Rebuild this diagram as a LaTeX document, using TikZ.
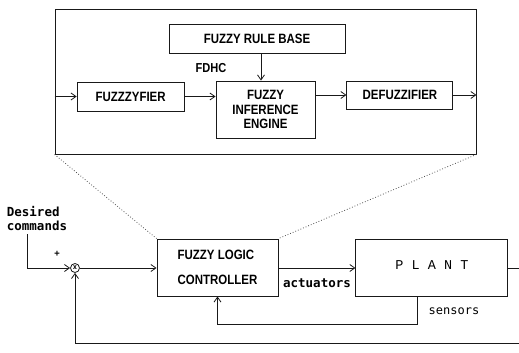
\documentclass[tikz,border=0pt]{standalone}
\usepackage{fontspec}
\setmainfont{Liberation Sans}
\newfontfamily\plotfont{Liberation Sans}[FakeStretch=0.85]
\newfontfamily\penfont{DejaVu Sans Mono}
\newfontfamily\plantfont{Liberation Mono}
\usetikzlibrary{arrows.meta,positioning}
\definecolor{ink}{RGB}{25,25,25}

\begin{document}
\begin{tikzpicture}[x=1pt,y=-1pt,
  blk/.style={draw=ink,line width=0.9pt,align=center,inner sep=0pt,
    font=\plotfont\bfseries\fontsize{13.5}{14.5}\selectfont},
  arr/.style={-{Straight Barb[length=5pt,width=7pt]},line width=0.8pt,draw=ink},
  lnk/.style={line width=0.8pt,draw=ink},
  zoomline/.style={dotted,line width=0.8pt,draw=ink!75},
  lbl/.style={font=\penfont\bfseries\fontsize{12.5}{14}\selectfont,inner sep=0pt,align=left}
]
\useasboundingbox (0,0) rectangle (519,353);

% inside the controller
\node[draw=ink,line width=0.9pt,minimum width=421pt,minimum height=145pt] (fdhc) at (265.5,81.5) {};
\node[blk,minimum width=176pt,minimum height=29pt] (rules) at (257,38.5) {FUZZY RULE BASE};
\node[blk,minimum width=99pt,minimum height=57pt] (engine) at (265.5,109.5) {FUZZY\\INFERENCE\\ENGINE};
\node[blk,minimum width=107pt,minimum height=29pt,left=31pt of engine.north west,anchor=north east,yshift=-1pt] (fuzz) {FUZZZYFIER};
\node[blk,minimum width=106pt,minimum height=28pt,right=31pt of engine.north east,anchor=north west] (defuzz) {DEFUZZIFIER};
\node[font=\plotfont\bfseries\fontsize{13}{14}\selectfont,inner sep=0pt] (fdhclbl) at (211,68) {FDHC};

\draw[arr] (fdhc.west |- fuzz) -- (fuzz);
\draw[arr] (fuzz) -- (fuzz -| engine.west);
\draw[arr] (engine.east |- defuzz) -- (defuzz);
\draw[arr] (defuzz) -- (fdhc.east |- defuzz);
\draw[arr] (rules.south -| 261,0) -- (engine.north -| 261,0);

% control loop
\node[blk,minimum width=121pt,minimum height=57pt,align=left] (flc) at (217.5,267.5) {FUZZY LOGIC\\[11pt]CONTROLLER};
\node[draw=ink,line width=0.9pt,minimum width=152pt,minimum height=57pt,
  right=77pt of flc,font=\plantfont\fontsize{13.5}{14}\selectfont] (plant) {\raisebox{4pt}{P L A N T}};
\node[draw=ink,line width=0.8pt,circle,minimum size=9pt,inner sep=0pt,
  font=\penfont\bfseries\fontsize{7}{7}\selectfont] (sum) at (75,268) {x};
\node[lbl] (desired) at (37,219) {Desired\\commands};
\node[font=\penfont\bfseries\fontsize{9}{9}\selectfont,inner sep=0pt] (plus) at (57,254) {+};
\node[lbl] (act) at (317,283) {actuators};
\node[lbl,font=\penfont\fontsize{12}{14}\selectfont] (sens) at (454,311) {sensors};

\draw[zoomline] (fdhc.south west) -- (flc.north west);
\draw[zoomline] (fdhc.south east) -- (flc.north east);

\coordinate (cmd) at (27,234);
\coordinate (out) at (519,268);
\coordinate (ret) at (519,343);
\coordinate (tap) at (417,324);
\draw[arr] (cmd) |- (sum.west);
\draw[arr] (sum.east) -- (flc.west |- sum);
\draw[arr] (flc.east |- sum) -- (plant.west |- sum);
\draw[lnk] (plant.east |- sum) -- (out);
\draw[arr] (ret) -| (sum.south);
\draw[arr] (plant.south -| tap) -- (tap) -| (flc.south);
\end{tikzpicture}
\end{document}
